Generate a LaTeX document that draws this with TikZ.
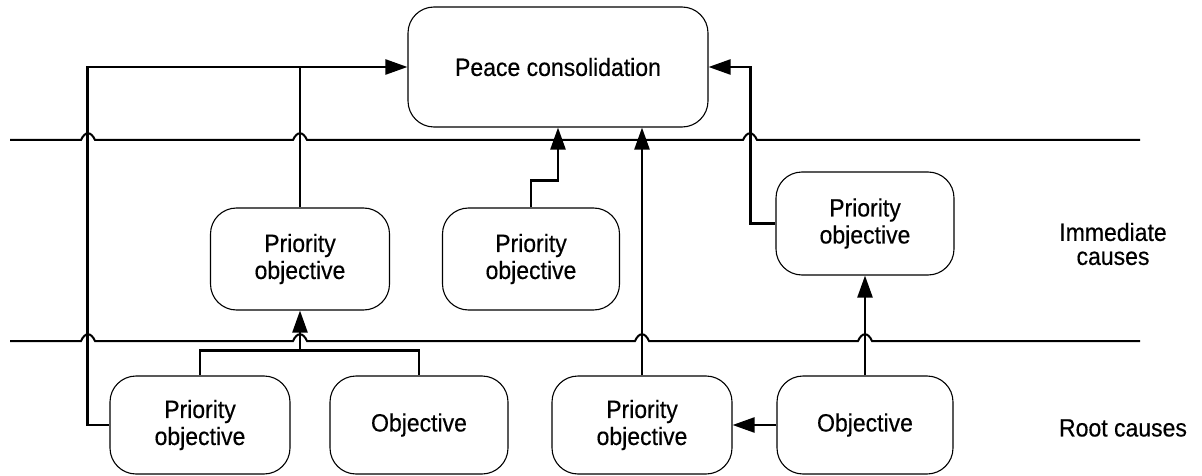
\documentclass[tikz,border=0pt]{standalone}
\usepackage{fontspec}
\setmainfont{Liberation Sans}[FakeStretch=0.92,FakeBold=0.4]
\usetikzlibrary{arrows.meta}

% small hump where a divider passes over a vertical connector
\newcommand\linehop[2]{-- ({#1-7},#2) .. controls ({#1-3},{#2-9}) and ({#1+3},{#2-9}) .. ({#1+7},#2)}

\begin{document}
\begin{tikzpicture}[x=1pt,y=-1pt,
  box/.style={draw, line width=1.1pt, rounded corners=26pt, align=center,
    inner sep=0pt, font=\fontsize{25}{27}\selectfont},
  lbl/.style={align=center, font=\fontsize{25}{24}\selectfont},
  link/.style={line width=2.4pt},
  arr/.style={link, -{Triangle[length=22pt,width=15pt]}},
  divider/.style={line width=2pt},
]
\useasboundingbox (0,0) rectangle (1202,476);

% level dividers
\draw[divider] (10,140) \linehop{88}{140} \linehop{300}{140} \linehop{750}{140} -- (1140,140);
\draw[divider] (10,341) \linehop{88}{341} \linehop{300}{341} \linehop{642}{341} \linehop{865}{341} -- (1140,341);

% goal
\node[box, minimum width=300pt, minimum height=120pt] (peace) at (558,67) {Peace consolidation};

% immediate causes
\node[box, minimum width=179pt, minimum height=102pt] (po1) at (300,259) {Priority\\objective};
\node[box, minimum width=177pt, minimum height=102pt] (po2) at (531,259) {Priority\\objective};
\node[box, minimum width=178pt, minimum height=103pt] (po3) at (865,223.5) {Priority\\objective};

% root causes
\node[box, minimum width=180pt, minimum height=98pt] (po4) at (200,425) {Priority\\objective};
\node[box, minimum width=178pt, minimum height=98pt] (obj1) at (419,425) {Objective};
\node[box, minimum width=180pt, minimum height=98pt] (po5) at (642,425) {Priority\\objective};
\node[box, minimum width=176pt, minimum height=98pt] (obj2) at (865,425) {Objective};

% level labels
\node[lbl] (imm) at (1113,244) {Immediate\\causes};
\node[lbl] (root) at (1123,428) {Root causes};

% connectors
\coordinate (fork) at ([yshift=25pt]po4.north);
\draw[link] (po4.north) -- (fork) -| (obj1.north);
\draw[arr] (fork -| po1.south) -- (po1.south);
\draw[arr] (po4.west) -- ++(-22,0) |- (peace.west);
\draw[link] (po1.north) -- (po1.north |- peace.west);
\draw[arr] (po2.north) -- ++(0,-27) -| (peace.south);
\draw[arr] (po5.north) -- (po5.north |- peace.south);
\draw[arr] (po3.west) -- ++(-25,0) |- (peace.east);
\draw[arr] (obj2.north) -- (obj2.north |- po3.south);
\draw[arr] (obj2.west) -- (po5.east);
\end{tikzpicture}
\end{document}
